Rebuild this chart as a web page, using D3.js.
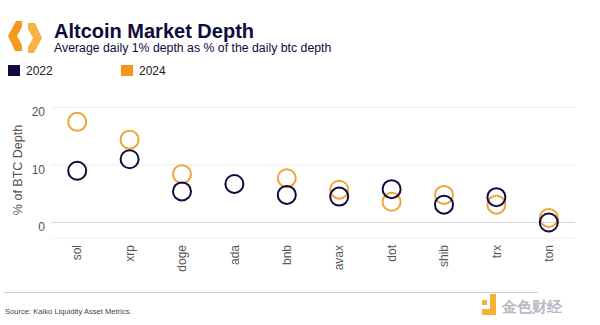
<!DOCTYPE html>
<html lang="en">
<head>
<meta charset="UTF-8">
<title>Altcoin Market Depth</title>
<script src="https://d3js.org/d3.v7.min.js"></script>
<style>
  body { margin: 0; background: #fff; }
  text { font-family: "Liberation Sans", Arial, sans-serif; }
</style>
</head>
<body>
<svg id="main" width="600" height="325"></svg>
<script>
// data
const coins = ['sol', 'xrp', 'doge', 'ada', 'bnb', 'avax', 'dot', 'shib', 'trx', 'ton'];
const depth2022 = [9.0, 11.0, 5.4, 6.7, 4.8, 4.5, 5.8, 3.1, 4.4, 0.0];
const depth2024 = [17.5, 14.4, 8.4, null, 7.7, 5.7, 3.6, 4.8, 3.1, 0.8];
const yTicks = [0, 10, 20];

const navy = '#0e0c3e';
const orange = '#f0a43a';

const svg = d3.select('svg#main');

// header logo
const logo = svg.append('g').attr('transform', 'translate(25,37)');
logo.append('path')
    .attr('d', 'M-3,-16 L-9,-16 L-17,-1 L-10,14 L-3,14 L-3,8 L-8,-1 L-3,-10 Z')
    .attr('fill', '#f39a1e');
logo.append('path')
    .attr('d', 'M3,-14 L10,-14 L17,1 L9,16 L3,16 L3,10 L8,1 L3,-8 Z')
    .attr('fill', '#f7b445');

svg.append('text').attr('x', 54).attr('y', 38)
    .attr('font-size', 20).attr('font-weight', 'bold').attr('fill', navy)
    .text('Altcoin Market Depth');
svg.append('text').attr('x', 54).attr('y', 52)
    .attr('font-size', 12.3).attr('fill', navy)
    .text('Average daily 1% depth as % of the daily btc depth');

// legend
const legend = [['2022', navy, 8], ['2024', '#f7941d', 121]];
legend.forEach(([label, col, lx]) => {
    svg.append('rect').attr('x', lx).attr('y', 65).attr('width', 12).attr('height', 11).attr('fill', col);
    svg.append('text').attr('x', lx + 18).attr('y', 75).attr('font-size', 12).attr('fill', '#222').text(label);
});

// scales
const x = d3.scaleBand().domain(coins).range([51, 575]);
const y = d3.scaleLinear().domain([-2.7, 20]).range([238, 107.5]);

// grid
svg.append('g').selectAll('line').data(yTicks).join('line')
    .attr('x1', 51).attr('x2', 575)
    .attr('y1', d => y(d)).attr('y2', d => y(d))
    .attr('stroke', d => d === 0 ? '#d8d8e0' : '#eeeeee').attr('stroke-width', 1);
svg.append('line').attr('x1', 51).attr('x2', 575).attr('y1', 238).attr('y2', 238)
    .attr('stroke', '#f2f2f2');

// y axis
const yAxis = svg.append('g').attr('transform', 'translate(45,0)')
    .call(d3.axisLeft(y).tickValues(yTicks).tickSize(0).tickPadding(0));
yAxis.select('.domain').remove();
yAxis.selectAll('text').attr('font-size', 12).attr('fill', '#555').attr('dy', '0.68em');

svg.append('text')
    .attr('transform', 'translate(22,170) rotate(-90)')
    .attr('text-anchor', 'middle').attr('font-size', 12.5).attr('fill', '#555')
    .text('% of BTC Depth');

// x axis, labels rotated to read upward
const xAxis = svg.append('g').attr('transform', 'translate(0,245)')
    .call(d3.axisBottom(x).tickSize(0).tickPadding(0));
xAxis.select('.domain').remove();
xAxis.selectAll('.tick text')
    .attr('transform', 'rotate(-90)')
    .attr('text-anchor', 'end').attr('x', 0).attr('y', 0).attr('dy', '0.35em')
    .attr('font-size', 12).attr('fill', '#555');

const points = (vals, col) => svg.append('g').selectAll('circle')
    .data(coins.map((c, i) => ({ c, v: vals[i] })).filter(d => d.v !== null))
    .join('circle')
    .attr('cx', d => x(d.c) + x.bandwidth() / 2)
    .attr('cy', d => y(d.v))
    .attr('r', 9)
    .attr('fill', 'none')
    .attr('stroke', col)
    .attr('stroke-width', 2);

points(depth2024, orange);
points(depth2022, navy);

// footer
svg.append('line').attr('x1', 4).attr('x2', 538).attr('y1', 292.5).attr('y2', 292.5)
    .attr('stroke', '#cfcfcf');
svg.append('text').attr('x', 5).attr('y', 314).attr('font-size', 7.6).attr('fill', '#444')
    .text('Source: Kaiko Liquidity Asset Metrics.');

// watermark
const wm = svg.append('g').attr('transform', 'translate(482,293)');
wm.append('rect').attr('x', 0).attr('y', 7).attr('width', 5).attr('height', 5).attr('fill', '#f5b335');
wm.append('path').attr('d', 'M8,1 L14,1 L14,22 L0,22 L0,16 L8,16 Z').attr('fill', '#f5b335');
wm.append('text').attr('x', 20).attr('y', 19).attr('font-size', 15).attr('font-weight', 'bold')
    .attr('fill', '#b9b9c4').attr('font-family', '"Noto Sans CJK SC"')
    .text('金色财经');
</script>
</body>
</html>
